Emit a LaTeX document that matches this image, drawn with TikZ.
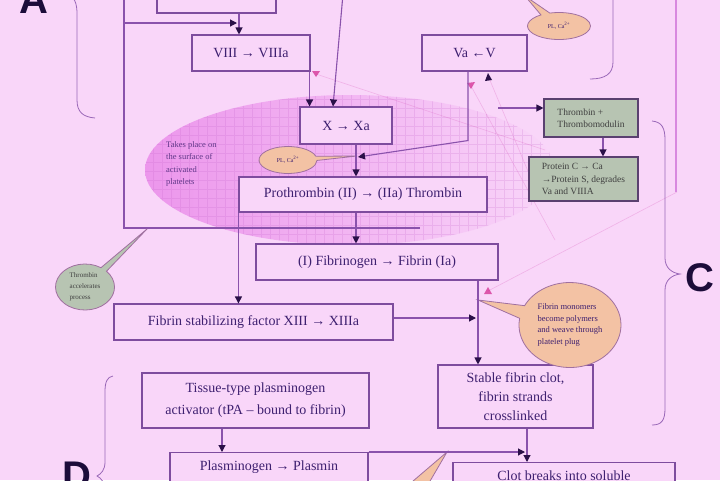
\documentclass[tikz,border=0pt]{standalone}
\usepackage{fontspec}
\setmainfont{Liberation Serif}
\newfontfamily\lettfont{Liberation Sans}
\usetikzlibrary{arrows.meta,shapes.callouts,shapes.geometric}
\definecolor{bgc}{HTML}{F9D6F9}
\definecolor{linec}{HTML}{8A52AC}
\definecolor{boxc}{HTML}{7E4C9E}
\definecolor{txtc}{HTML}{3E2070}
\definecolor{arrowc}{HTML}{2A1048}
\definecolor{magc}{HTML}{EC96EC}
\definecolor{gridc}{HTML}{C060C8}
\definecolor{peach}{HTML}{F3C2A4}
\definecolor{peachb}{HTML}{A070A0}
\definecolor{greyg}{HTML}{B7C4B2}
\definecolor{greygb}{HTML}{5A4070}
\definecolor{faint}{HTML}{E070C8}
\definecolor{redm}{HTML}{D0208A}
\definecolor{lettc}{HTML}{1C0C3A}
\definecolor{brc}{HTML}{9A68B8}
\begin{document}
\begin{tikzpicture}[x=1pt,y=-1pt,
  box/.style={draw=boxc, line width=1.1pt, fill=bgc, text=txtc, align=center, inner sep=2pt,
    font=\fontsize{14}{17}\selectfont},
  gbox/.style={draw=greygb, line width=1.1pt, fill=greyg, text=black!75, align=left, inner sep=2pt,
    font=\fontsize{9.5}{12.5}\selectfont},
  arr/.style={draw=linec, line width=1.1pt, -{Triangle[length=7pt,width=7pt,color=arrowc]}},
  ln/.style={draw=linec, line width=1.1pt},
  brace/.style={draw=brc, line width=0.8pt},
  pcall/.style={ellipse callout, draw=peachb, line width=0.8pt, fill=peach, text=txtc, inner sep=0pt, callout pointer arc=18},
  gcall/.style={ellipse callout, draw=peachb, line width=0.8pt, fill=greyg, text=black!75, inner sep=0pt, callout pointer arc=14},
  flt/.style={draw=faint, line width=0.6pt, opacity=0.35},
  lett/.style={text=lettc, font=\lettfont\bfseries\fontsize{40}{40}\selectfont, inner sep=0pt}
]
\useasboundingbox (0,0) rectangle (720,480);
\clip (0,0) rectangle (720,480);
\fill[bgc] (0,0) rectangle (720,480);

% platelet surface ellipse
\begin{scope}
  \clip (350,170) ellipse [x radius=205, y radius=75];
  \shade[left color=magc, middle color=magc!85!bgc, right color=bgc] (145,90) rectangle (556,250);
  \draw[gridc, line width=0.3pt, opacity=0.2, step=9pt] (140,90) grid (560,250);
\end{scope}

% faint lines
\draw[flt] (316,74) -- (545,150);
\draw[flt] (471,86) -- (555,240);
\draw[flt] (677,192) -- (488,291);
\draw[flt] (540,200) -- (489,78);
\fill[redm, opacity=0.7] (312,71) -- (320,71) -- (316,77) -- cycle;
\fill[redm, opacity=0.7] (467,83) -- (475,82) -- (471,89) -- cycle;
\fill[redm, opacity=0.7] (484,294) -- (492,294) -- (488,287) -- cycle;
\fill[arrowc] (485,81) -- (492,80) -- (488,73) -- cycle;

% braces and frame lines
\draw[brace] (66,-6) .. controls (75,-4) and (77,4) .. (77,14) -- (77,100) .. controls (77,112) and (83,117) .. (95,118);
\draw[brace] (613,-5) -- (613,62) .. controls (613,74) and (605,79) .. (590,79);
\draw[brace] (652,121) .. controls (662,122) and (665,128) .. (665,140) -- (665,258) .. controls (665,268) and (672,273) .. (680,274)
  .. controls (672,275) and (665,280) .. (665,290) -- (665,408) .. controls (665,420) and (662,425) .. (652,425);
\draw[brace] (113,376) .. controls (107,377) and (105,382) .. (105,392) -- (105,462) .. controls (105,470) and (101,474) .. (97,476)
  .. controls (101,478) and (105,482) .. (105,492);
\draw[draw=magc!80!linec, line width=1.2pt] (676,-5) -- (676,192);
\draw[ln] (124,-5) -- (124,228) -- (420,228);

% letters
\node[lett, anchor=base] (la) at (34,13) {A};
\node[lett, anchor=base] (lc) at (700,291) {C};
\node[lett, anchor=base] (ld) at (77,489) {D};

% boxes
\node[box, minimum width=119, minimum height=23] (top) at (216.5,1.5) {};
\node[box, minimum width=118, minimum height=36] (viii) at (251,53) {VIII → VIIIa};
\node[box, minimum width=105, minimum height=36] (va) at (474.5,53) {Va ←V};
\node[box, minimum width=92, minimum height=37] (x) at (346,125.5) {X → Xa};
\node[gbox, minimum width=94, minimum height=38] (thr) at (591,118) {Thrombin +\\Thrombomodulin};
\node[gbox, minimum width=109, minimum height=44] (protc) at (583.5,179) {Protein C → Ca\\→Protein S, degrades\\Va and VIIIA};
\node[box, minimum width=248, minimum height=35] (proth) at (363,194.5) {Prothrombin (II) → (IIa) Thrombin};
\node[box, minimum width=242, minimum height=36] (fibg) at (377,262) {(I) Fibrinogen → Fibrin (Ia)};
\node[box, minimum width=279, minimum height=36] (fsf) at (253.5,322) {Fibrin stabilizing factor XIII → XIIIa};
\node[box, minimum width=155, minimum height=63, font=\fontsize{14}{19}\selectfont] (stable) at (515.5,396.5) {Stable fibrin clot,\\fibrin strands\\crosslinked};
\node[box, minimum width=227, minimum height=55, font=\fontsize{14}{22}\selectfont] (tissue) at (255.5,400.5) {Tissue-type plasminogen\\activator (tPA – bound to fibrin)};
\node[box, anchor=north, minimum width=198, inner ysep=8pt] (plasm) at (269,452) {Plasminogen → Plasmin};
\node[box, anchor=north, minimum width=222, inner ysep=8pt] (clot) at (564,462) {Clot breaks into soluble};

% text on platelet surface
\node[text=txtc!80!magc, align=left, anchor=north west, inner sep=0pt, font=\fontsize{8.5}{12.5}\selectfont] (surf) at (166,141) {Takes place on\\the surface of\\activated\\platelets};

% callouts
\node[pcall, minimum width=63, minimum height=27, callout absolute pointer={(525,-4)}, font=\fontsize{6}{7}\selectfont] (pl1) at (559,26) {PL, Ca\textsuperscript{2+}};
\node[pcall, minimum width=58, minimum height=27, callout absolute pointer={(357,156)}, font=\fontsize{6}{7}\selectfont] (pl2) at (288,160) {PL, Ca\textsuperscript{2+}};
\node[gcall, minimum width=59, minimum height=46, callout absolute pointer={(147,229)}, align=left, font=\fontsize{7}{11}\selectfont] (thracc) at (85,287) {Thrombin\\accelerates\\process};
\node[pcall, minimum width=102, minimum height=85, callout absolute pointer={(478,300)}, align=left, font=\fontsize{8.5}{11.5}\selectfont] (fmono) at (570,325) {Fibrin monomers\\become polymers\\and weave through\\platelet plug};
\node[pcall, minimum width=130, minimum height=50, callout absolute pointer={(447,452)}] (lowcall) at (395,512) {};

% connectors
\coordinate (j1) at (237,23);
\coordinate (l23) at (124,23);
\coordinate (d0) at (343,-6);
\coordinate (m1) at (358,157);
\coordinate (m3) at (498,108);
\coordinate (m2) at (476,318);
\coordinate (m4) at (525,452);

\draw[arr] ([xshift=22.5pt]top.south) -- ([xshift=22.5pt]top.south |- viii.north);
\draw[arr] (l23) -- (j1);
\draw[arr] (d0) -- ([xshift=-13pt]x.north);
\draw[arr] ([xshift=-1pt]viii.south east) -- ([xshift=-1pt]viii.south east |- x.north);
\draw[arr] ([xshift=-6.5pt]va.south) -- ++(0,69) -- (m1);
\draw[arr] ([xshift=10pt]x.south) -- ([xshift=10pt]x.south |- proth.north);
\draw[arr] (m3) -- ([yshift=10pt]thr.west);
\draw[arr] ([xshift=12pt]thr.south) -- ([xshift=12pt]thr.south |- protc.north);
\draw[arr] ([xshift=-7pt]proth.south) -- ([xshift=-7pt]proth.south |- fibg.north);
\draw[arr] (proth.south west) -- (proth.south west |- fsf.north);
\draw[arr] ([xshift=101pt]fibg.south) -- ([xshift=101pt]fibg.south |- stable.north);
\draw[arr] ([yshift=4pt]fsf.east) -- (m2);
\draw[arr] ([xshift=-33.5pt]tissue.south) -- ([xshift=-33.5pt]tissue.south |- plasm.north);
\draw[arr] (plasm.north east) -- (m4);
\draw[arr] ([xshift=11.5pt]stable.south) -- ([xshift=11.5pt]stable.south |- clot.north);
\end{tikzpicture}
\end{document}
